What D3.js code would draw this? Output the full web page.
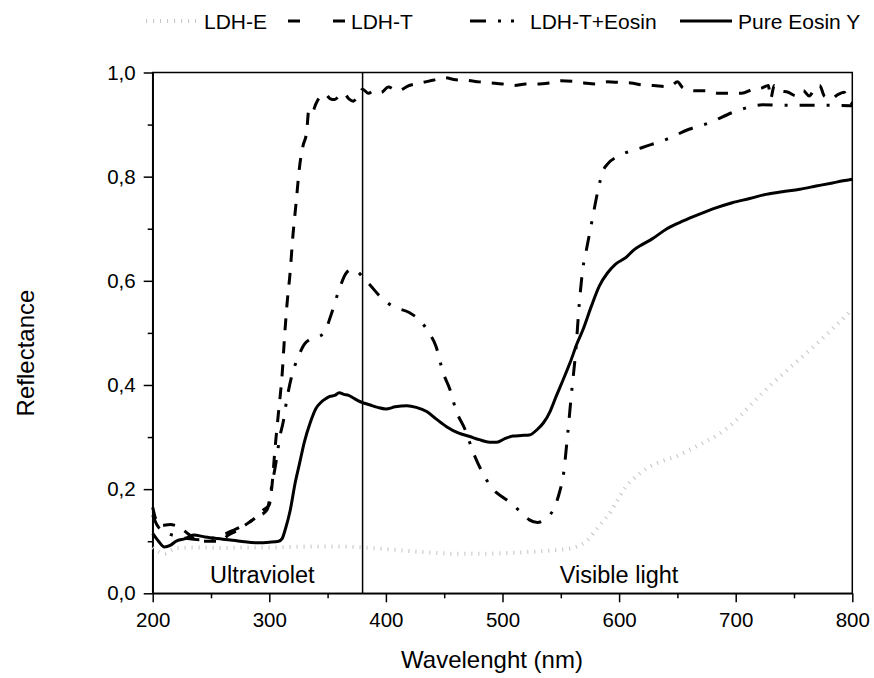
<!DOCTYPE html>
<html>
<head>
<meta charset="utf-8">
<style>
  body { margin: 0; background: #fff; }
  svg text { font-family: "Liberation Sans", Arial, sans-serif; fill: #000; }
</style>
</head>
<body>
<svg width="874" height="678"></svg>
<script src="https://d3js.org/d3.v7.min.js"></script>
<script>
  // reflectance spectra: [wavelength nm, reflectance]
  const ldhE = [[200,0.088],[205,0.08],[210,0.076],[215,0.082],[220,0.087],[240,0.088],[260,0.087],[280,0.088],[300,0.088],[320,0.089],[340,0.09],[360,0.09],[380,0.088],[400,0.085],[420,0.081],[440,0.078],[460,0.076],[480,0.076],[500,0.077],[520,0.079],[540,0.082],[555,0.085],[562,0.088],[567,0.093],[572,0.1],[578,0.116],[585,0.135],[592,0.154],[599,0.18],[606,0.205],[615,0.225],[626,0.243],[637,0.254],[649,0.263],[660,0.275],[672,0.289],[685,0.305],[698,0.327],[710,0.355],[723,0.385],[735,0.41],[746,0.432],[758,0.456],[769,0.478],[783,0.508],[792,0.527],[800,0.545]];

  const ldhT = [[200,0.165],[203,0.14],[207,0.13],[215,0.132],[222,0.128],[230,0.115],[240,0.1],[250,0.1],[258,0.1],[265,0.112],[272,0.12],[280,0.132],[288,0.145],[295,0.16],[300,0.17],[302,0.2],[305,0.28],[308,0.35],[311,0.42],[313,0.49],[315,0.55],[318,0.62],[320,0.68],[323,0.75],[326,0.82],[329,0.86],[332,0.885],[334,0.93],[337,0.925],[340,0.94],[344,0.955],[348,0.958],[352,0.95],[356,0.948],[360,0.955],[364,0.96],[368,0.95],[372,0.945],[376,0.955],[380,0.968],[385,0.96],[390,0.965],[396,0.962],[402,0.972],[410,0.965],[420,0.975],[430,0.98],[440,0.985],[450,0.99],[460,0.986],[470,0.985],[480,0.982],[490,0.98],[500,0.978],[510,0.975],[520,0.978],[530,0.978],[540,0.98],[550,0.984],[560,0.983],[570,0.98],[580,0.978],[590,0.982],[600,0.981],[610,0.98],[620,0.976],[630,0.975],[640,0.973],[645,0.975],[650,0.982],[655,0.97],[665,0.965],[675,0.965],[685,0.96],[695,0.96],[705,0.96],[715,0.968],[722,0.97],[728,0.975],[730,0.95],[733,0.975],[738,0.965],[745,0.962],[752,0.955],[758,0.965],[763,0.955],[768,0.97],[772,0.975],[776,0.955],[782,0.95],[788,0.958],[793,0.962],[797,0.945],[800,0.94]];

  const ldhTEosin = [[200,0.15],[204,0.13],[210,0.118],[220,0.11],[230,0.105],[240,0.103],[250,0.105],[260,0.112],[270,0.122],[280,0.133],[290,0.147],[298,0.16],[302,0.205],[306,0.255],[309,0.3],[312,0.33],[315,0.372],[319,0.415],[325,0.455],[330,0.478],[335,0.488],[341,0.492],[347,0.5],[353,0.535],[359,0.577],[366,0.615],[371,0.622],[376,0.617],[381,0.605],[386,0.593],[395,0.57],[406,0.551],[420,0.539],[430,0.522],[437,0.5],[443,0.474],[449,0.424],[455,0.391],[460,0.352],[468,0.314],[475,0.27],[483,0.231],[492,0.199],[500,0.185],[509,0.17],[516,0.155],[523,0.141],[530,0.136],[535,0.14],[539,0.147],[543,0.158],[546,0.173],[549,0.195],[552,0.224],[556,0.308],[559,0.38],[563,0.47],[566,0.56],[569,0.625],[572,0.66],[577,0.718],[582,0.775],[586,0.81],[590,0.824],[600,0.84],[620,0.856],[641,0.872],[660,0.891],[678,0.904],[697,0.923],[712,0.934],[723,0.938],[740,0.937],[760,0.937],[780,0.937],[800,0.936]];

  const eosinY = [[200,0.115],[205,0.1],[210,0.089],[215,0.092],[220,0.1],[228,0.105],[235,0.112],[245,0.108],[260,0.104],[275,0.1],[290,0.097],[300,0.098],[308,0.1],[311,0.105],[314,0.125],[318,0.16],[322,0.21],[326,0.25],[330,0.29],[335,0.327],[340,0.355],[344,0.366],[348,0.373],[352,0.378],[356,0.38],[360,0.385],[364,0.382],[368,0.38],[372,0.375],[376,0.37],[380,0.366],[386,0.362],[393,0.357],[400,0.354],[408,0.358],[418,0.36],[426,0.357],[435,0.349],[443,0.335],[452,0.32],[462,0.308],[472,0.301],[480,0.295],[489,0.29],[495,0.29],[502,0.297],[509,0.302],[516,0.303],[523,0.304],[530,0.315],[535,0.327],[541,0.35],[546,0.378],[552,0.41],[558,0.443],[564,0.48],[569,0.506],[576,0.55],[583,0.59],[590,0.615],[597,0.632],[606,0.645],[613,0.66],[620,0.67],[628,0.68],[641,0.7],[655,0.715],[669,0.728],[683,0.74],[697,0.75],[712,0.758],[726,0.766],[740,0.771],[755,0.776],[769,0.782],[783,0.788],[792,0.792],[800,0.795]];

  const xTicks = [200, 300, 400, 500, 600, 700, 800];
  const xMinor = [250, 350, 450, 550, 650, 750];
  const yTicks = [0, 0.2, 0.4, 0.6, 0.8, 1.0];
  const yMinor = [0.1, 0.3, 0.5, 0.7, 0.9];
  const uvLimit = 380;

  const series = [
    { name: "LDH-E", data: ldhE, stroke: "#c8c8c8", width: 4, dash: "1.1,5.9" },
    { name: "LDH-T", data: ldhT, stroke: "#000", width: 3, dash: "12,11" },
    { name: "LDH-T+Eosin", data: ldhTEosin, stroke: "#000", width: 3, dash: "15,12,3,12" },
    { name: "Pure Eosin Y", data: eosinY, stroke: "#000", width: 3, dash: null }
  ];

  const svg = d3.select("svg");
  const plotL = 152.7, plotR = 852.3, plotT = 72.5, plotB = 593.3;

  const x = d3.scaleLinear().domain([200, 800]).range([plotL, plotR]);
  const y = d3.scaleLinear().domain([0, 1]).range([plotB, plotT]);

  const comma = d => d3.format(".1f")(d).replace(".", ",");

  // frame
  svg.append("rect")
    .attr("x", plotL).attr("y", plotT)
    .attr("width", plotR - plotL).attr("height", plotB - plotT)
    .attr("fill", "none").attr("stroke", "#000").attr("stroke-width", 1.5);

  // bottom axis, major + minor
  svg.append("g")
    .attr("transform", `translate(0,${plotB})`)
    .call(d3.axisBottom(x).tickValues(xTicks).tickSize(9).tickPadding(10).tickSizeOuter(0));
  svg.append("g")
    .attr("transform", `translate(0,${plotB})`)
    .call(d3.axisBottom(x).tickValues(xMinor).tickSize(5).tickFormat(""))
    .call(g => g.select(".domain").remove());

  // left axis, major + minor
  svg.append("g")
    .attr("transform", `translate(${plotL},0)`)
    .call(d3.axisLeft(y).tickValues(yTicks).tickFormat(comma).tickSize(9).tickPadding(8).tickSizeOuter(0));
  svg.append("g")
    .attr("transform", `translate(${plotL},0)`)
    .call(d3.axisLeft(y).tickValues(yMinor).tickSize(5).tickFormat(""))
    .call(g => g.select(".domain").remove());

  svg.selectAll(".tick line, .domain").attr("stroke", "#000").attr("stroke-width", 1.5);
  svg.selectAll(".tick text").style("font-size", "20.5px");

  // UV / visible divider
  svg.append("line")
    .attr("x1", x(uvLimit)).attr("x2", x(uvLimit))
    .attr("y1", y(0)).attr("y2", y(1))
    .attr("stroke", "#000").attr("stroke-width", 1.5);

  // curves
  const line = d3.line().x(d => x(d[0])).y(d => y(d[1])).curve(d3.curveMonotoneX);
  svg.append("g").selectAll("path")
    .data(series)
    .join("path")
    .attr("d", d => line(d.data))
    .attr("fill", "none")
    .attr("stroke", d => d.stroke)
    .attr("stroke-width", d => d.width)
    .attr("stroke-dasharray", d => d.dash)
    .attr("stroke-linejoin", "round");

  // region labels
  svg.append("text").attr("x", x(294)).attr("y", y(0.02))
    .attr("text-anchor", "middle").style("font-size", "23.5px").text("Ultraviolet");
  svg.append("text").attr("x", x(600)).attr("y", y(0.02))
    .attr("text-anchor", "middle").style("font-size", "23.5px").text("Visible light");

  // axis titles
  svg.append("text").attr("x", 492).attr("y", 668)
    .attr("text-anchor", "middle").style("font-size", "24px").text("Wavelenght (nm)");
  svg.append("text").attr("transform", "translate(34,353) rotate(-90)")
    .attr("text-anchor", "middle").style("font-size", "24px").text("Reflectance");

  // legend across the top
  const legendX = [146, 288, 470, 680];
  const legendLen = [52, 57, 54, 52];
  const legendDash = ["1.1,5.9", "12,33", "16,12,3,10,3,10", null];
  const lg = svg.append("g").selectAll("g")
    .data(series)
    .join("g")
    .attr("transform", (d, i) => `translate(${legendX[i]},21)`);
  lg.append("line")
    .attr("x1", 0).attr("x2", (d, i) => legendLen[i])
    .attr("stroke", d => d.stroke)
    .attr("stroke-width", d => d.width)
    .attr("stroke-dasharray", (d, i) => legendDash[i]);
  lg.append("text")
    .attr("x", (d, i) => legendLen[i] + 6)
    .attr("y", 7.5)
    .style("font-size", "21px")
    .text(d => d.name);
</script>
</body>
</html>
